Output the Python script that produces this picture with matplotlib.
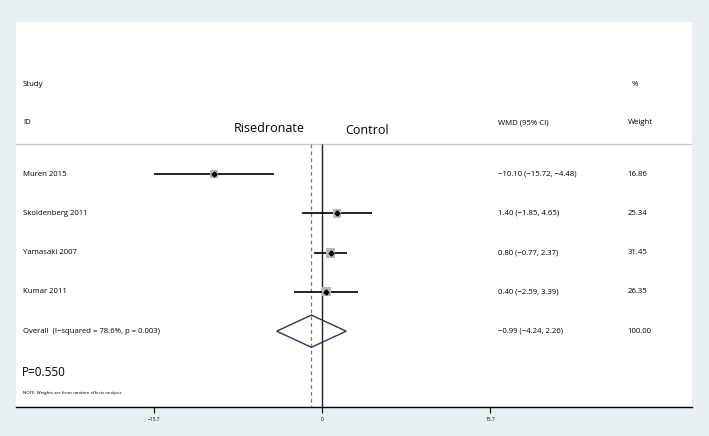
import matplotlib
matplotlib.use("Agg")
import matplotlib.pyplot as plt
import matplotlib.transforms as mtransforms
from matplotlib.patches import Polygon
import numpy as np

plt.rcParams["font.family"] = ["Open Sans", "DejaVu Sans"]

studies = ["Muren 2015", "Skoldenberg 2011", "Yamasaki 2007", "Kumar 2011"]
wmd = [-10.10, 1.40, 0.80, 0.40]
ci_lo = [-15.72, -1.85, -0.77, -2.59]
ci_hi = [-4.48, 4.65, 2.37, 3.39]
weights = [16.86, 25.34, 31.45, 26.35]

overall_label = "Overall  (I\u2212squared = 78.6%, p = 0.003)"
overall_est, overall_lo, overall_hi = -0.99, -4.24, 2.26
overall_weight = 100.00

xticks = [-15.7, 0, 15.7]
xtick_labels = ["\u221215.7", "0", "15.7"]


def fmt(v):
    return f"{v:.2f}".replace("-", "\u2212")


fig = plt.figure(figsize=(7.09, 4.36), dpi=100)
fig.patch.set_facecolor("#e8eff2")
ax = fig.add_axes([16 / 709, 1 - 407 / 436, 676 / 709, 385 / 436])
ax.set_facecolor("white")

ax.set_xlim(-28.6, 34.58)
ax.set_ylim(5.93, -3.87)

rows = np.arange(len(studies))
row_overall = len(studies)
hline_y = -0.76

# reference lines
ax.axhline(hline_y, color="#c8c8c8", lw=0.9)
ax.vlines(0, hline_y, 5.93, color="#202020", lw=1.0)
ax.vlines(overall_est, hline_y, 5.93, color="#b06060", lw=0.9,
          linestyles=(0, (3, 2.5)))

# study estimates
ax.hlines(rows, ci_lo, ci_hi, color="black", lw=1.2, zorder=3)
ax.scatter(wmd, rows, s=np.array(weights) * 1.6, marker="s",
           color="#b8b8b8", zorder=4, linewidths=0)
ax.scatter(wmd, rows, s=6, marker="D", color="black", zorder=5)

# overall diamond
h = 0.41
diamond = Polygon([(overall_lo, row_overall), (overall_est, row_overall - h),
                   (overall_hi, row_overall), (overall_est, row_overall + h)],
                  closed=True, fill=False, edgecolor="#2a3566", lw=1.0, zorder=4)
ax.add_patch(diamond)

# text columns
trans = mtransforms.blended_transform_factory(ax.transAxes, ax.transData)
fs = 5.6
col_study, col_wmd, col_w = 0.0104, 0.713, 0.905
ax.text(col_study, -2.27, "Study", transform=trans, fontsize=fs, va="center")
ax.text(col_study, -1.30, "ID", transform=trans, fontsize=fs, va="center")
ax.text(0.911, -2.27, "%", transform=trans, fontsize=fs, va="center")
ax.text(col_wmd, -1.30, "WMD (95% CI)", transform=trans, fontsize=fs, va="center")
ax.text(col_w, -1.30, "Weight", transform=trans, fontsize=fs, va="center")

ax.text(-4.9, -1.17, "Risedronate", fontsize=9, ha="center", va="center")
ax.text(4.2, -1.10, "Control", fontsize=9, ha="center", va="center")

for i, name in enumerate(studies):
    ax.text(col_study, i, name, transform=trans, fontsize=fs, va="center")
    ax.text(col_wmd, i, f"{fmt(wmd[i])} ({fmt(ci_lo[i])}, {fmt(ci_hi[i])})",
            transform=trans, fontsize=fs, va="center")
    ax.text(col_w, i, f"{weights[i]:.2f}", transform=trans, fontsize=fs, va="center")

ax.text(col_study, row_overall, overall_label, transform=trans, fontsize=fs, va="center")
ax.text(col_wmd, row_overall,
        f"{fmt(overall_est)} ({fmt(overall_lo)}, {fmt(overall_hi)})",
        transform=trans, fontsize=fs, va="center")
ax.text(col_w, row_overall, f"{overall_weight:.2f}", transform=trans,
        fontsize=fs, va="center")

ax.text(0.009, 5.04, "P=0.550", transform=trans, fontsize=8.5, va="center")
ax.text(col_study, 5.57, "NOTE: Weights are from random effects analysis",
        transform=trans, fontsize=3.2, va="center")

# axis
for side in ["top", "right", "left"]:
    ax.spines[side].set_visible(False)
ax.spines["bottom"].set_linewidth(1.0)
ax.set_yticks([])
ax.set_xticks(xticks)
ax.set_xticklabels(xtick_labels)
ax.tick_params(axis="x", length=4, width=0.8, labelsize=3.5, pad=3)

fig.savefig("out.png", dpi=100, facecolor=fig.get_facecolor())
